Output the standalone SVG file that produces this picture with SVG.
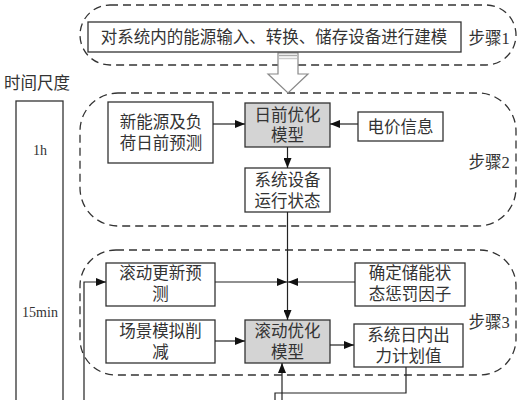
<svg xmlns="http://www.w3.org/2000/svg" width="522" height="400" viewBox="0 0 522 400">
<defs>
<style>
.bx{fill:#fff;stroke:#333;stroke-width:1.3}
.gy{fill:#d4d4d4;stroke:#333;stroke-width:1.3}
.dash{fill:none;stroke:#333;stroke-width:1.3;stroke-dasharray:8 5}
.ln{fill:none;stroke:#222;stroke-width:1.2}
text{font-family:"Liberation Serif","Noto Sans CJK SC",serif;font-size:16.5px;fill:#333;text-anchor:middle;dominant-baseline:central}
.lat{font-family:"Liberation Serif",serif;font-size:14px}
</style>
<marker id="ah" viewBox="0 0 10 8" refX="10" refY="4" markerWidth="10" markerHeight="8" markerUnits="userSpaceOnUse" orient="auto">
<path d="M0,0 L10,4 L0,8 Z" fill="#111"/>
</marker>
</defs>
<rect width="522" height="400" fill="#fff"/>

<g id="groups">
<rect id="step1" class="dash" x="80" y="5" width="436" height="60" rx="30" ry="30"/>
<rect id="step2" class="dash" x="80" y="93" width="436" height="133" rx="38" ry="38"/>
<rect id="step3" class="dash" x="80" y="250" width="436" height="125" rx="36" ry="36"/>
<text x="489" y="38">步骤1</text>
<text x="489" y="162">步骤2</text>
<text x="489" y="322">步骤3</text>
</g>

<g id="timescale">
<text x="37" y="83">时间尺度</text>
<rect class="bx" x="16" y="101" width="47" height="320"/>
<text class="lat" x="40" y="150">1h</text>
<text class="lat" x="40" y="312">15min</text>
</g>

<g id="hollow-arrow">
<polygon points="278,53 298,53 298,74 308,74 288,93 268,74 278,74" fill="#fff" stroke="#888" stroke-width="1.2"/>
<line x1="279" y1="55.5" x2="297" y2="55.5" stroke="#aaa" stroke-width="1.5"/>
<line x1="279" y1="58.5" x2="297" y2="58.5" stroke="#ccc" stroke-width="1.5"/>
</g>

<g id="n-model">
<rect class="bx" x="88" y="22" width="373" height="30"/>
<text x="274" y="37.5">对系统内的能源输入、转换、储存设备进行建模</text>
</g>

<g id="n-forecast">
<rect class="bx" x="108" y="102" width="105" height="61"/>
<text x="161" y="122">新能源及负</text>
<text x="161" y="143">荷日前预测</text>
</g>
<g id="n-dayahead">
<rect class="gy" x="245" y="103" width="85" height="44"/>
<text x="287.5" y="115">日前优化</text>
<text x="287.5" y="135">模型</text>
</g>
<g id="n-price">
<rect class="bx" x="358" y="112" width="85" height="29"/>
<text x="400.5" y="127">电价信息</text>
</g>
<g id="n-state">
<rect class="bx" x="245" y="168" width="85" height="44"/>
<text x="287.5" y="180">系统设备</text>
<text x="287.5" y="201">运行状态</text>
</g>

<g id="n-rolling-forecast">
<rect class="bx" x="106" y="263" width="109" height="43"/>
<text x="160.5" y="273">滚动更新预</text>
<text x="160.5" y="294">测</text>
</g>
<g id="n-penalty">
<rect class="bx" x="355" y="263" width="110" height="43"/>
<text x="410" y="273">确定储能状</text>
<text x="410" y="294">态惩罚因子</text>
</g>
<g id="n-scenario">
<rect class="bx" x="106" y="320" width="109" height="43"/>
<text x="160.5" y="331">场景模拟削</text>
<text x="160.5" y="352">减</text>
</g>
<g id="n-rolling-model">
<rect class="gy" x="245" y="320" width="85" height="43"/>
<text x="287.5" y="331">滚动优化</text>
<text x="287.5" y="352">模型</text>
</g>
<g id="n-plan">
<rect class="bx" x="354" y="324" width="109" height="43"/>
<text x="408.5" y="335">系统日内出</text>
<text x="408.5" y="356">力计划值</text>
</g>

<g id="connectors">
<line class="ln" x1="213" y1="124" x2="245" y2="124" marker-end="url(#ah)"/>
<line class="ln" x1="358" y1="124" x2="330" y2="124" marker-end="url(#ah)"/>
<line class="ln" x1="287.5" y1="147" x2="287.5" y2="168" marker-end="url(#ah)"/>
<line class="ln" x1="287.5" y1="212" x2="287.5" y2="320" marker-end="url(#ah)"/>
<line class="ln" x1="215" y1="282" x2="287" y2="282" marker-end="url(#ah)"/>
<line class="ln" x1="355" y1="282" x2="288" y2="282" marker-end="url(#ah)"/>
<line class="ln" x1="215" y1="341" x2="245" y2="341" marker-end="url(#ah)"/>
<line class="ln" x1="330" y1="345" x2="354" y2="345" marker-end="url(#ah)"/>
<polyline class="ln" points="406,367 406,393 275,393 275,401"/>
<line class="ln" x1="282" y1="401" x2="282" y2="363" marker-end="url(#ah)"/>
<polyline class="ln" points="84,401 84,282 106,282" marker-end="url(#ah)"/>
</g>
</svg>
